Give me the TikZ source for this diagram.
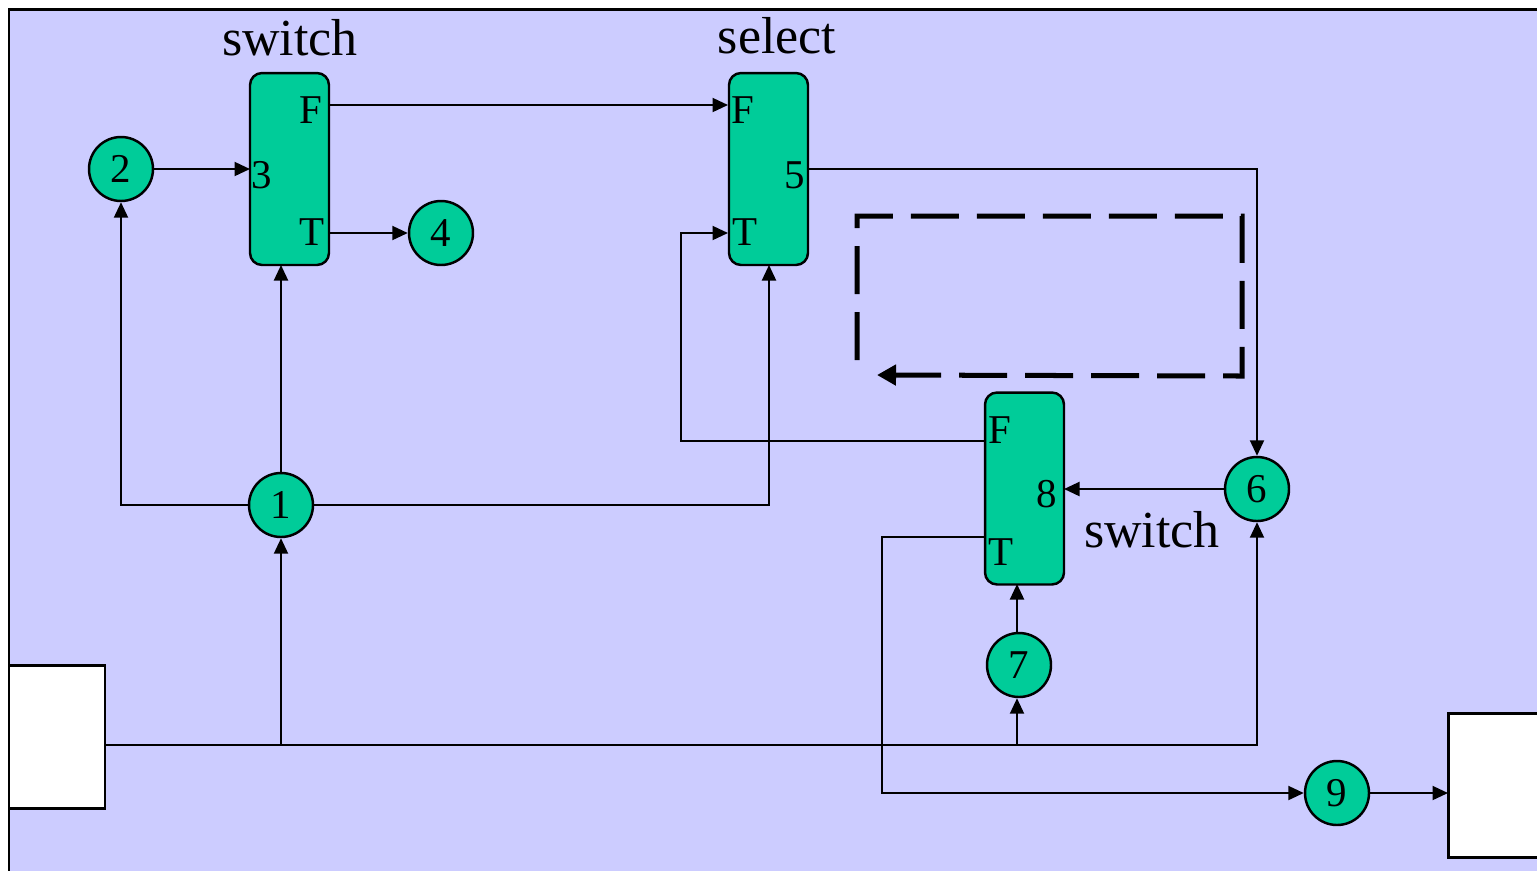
\documentclass[tikz,border=0pt]{standalone}
\usepackage{fontspec}
\setmainfont{Liberation Serif}
\usetikzlibrary{arrows.meta}
\definecolor{bgc}{HTML}{CCCCFF}
\definecolor{grn}{HTML}{00CC99}
\tikzset{
  conn/.style={line width=1.15pt, draw=black},
  arr/.style={conn, -{Triangle[length=0.31cm,width=0.28cm]}},
  opbox/.style={draw=black, line width=1.4pt, fill=grn, rounded corners=0.24cm, minimum width=1.58cm, minimum height=3.84cm, inner sep=0pt},
  vert/.style={circle, draw=black, line width=1.4pt, fill=grn, minimum size=1.28cm, inner sep=0pt, font=\fontsize{23.3}{28}\selectfont},
  lbl/.style={inner sep=0pt, anchor=base, font=\fontsize{23.3}{28}\selectfont},
  ttl/.style={inner sep=0pt, anchor=base, font=\fontsize{29.6}{34}\selectfont},
  iobox/.style={draw=black, line width=1.7pt, fill=white},
}
\begin{document}
\begin{tikzpicture}[x=0.02cm, y=-0.02cm]
\useasboundingbox (0,0) rectangle (1537,870);
\clip (0,0) rectangle (1537,870);
% background
\draw[fill=bgc, line width=1.7pt] (9,9) rectangle (1560,890);
% io boxes
\draw[iobox] (9,665) rectangle (105,808);
\node[inner sep=0pt, minimum width=1.92cm, minimum height=2.86cm] (inbox) at (57,736.5) {};
\draw[iobox] (1448,713) rectangle (1560,857);
\node[inner sep=0pt, minimum width=0.1cm, minimum height=0.5cm, anchor=west] (outbox) at (1448,793) {};
% operator boxes
\node[opbox] (sw1) at (289.5,169) {};
\node[opbox] (sel) at (768.5,169) {};
\node[opbox] (sw2) at (1024.5,488.5) {};
% titles
\node[ttl] (tsw1) at (290,55) {switch};
\node[ttl] (tsel) at (777,53) {select};
\node[ttl] (tsw2) at (1152,547) {switch};
% port labels
\node[lbl] (l1F) at (311,123) {F};
\node[lbl] (l13) at (262,188) {3};
\node[lbl] (l1T) at (312,245) {T};
\node[lbl] (lsF) at (743,123) {F};
\node[lbl] (ls5) at (795,188) {5};
\node[lbl] (lsT) at (745,245) {T};
\node[lbl] (l2F) at (1000,443) {F};
\node[lbl] (l28) at (1047,507) {8};
\node[lbl] (l2T) at (1001,565) {T};
% vertices
\node[vert] (c1) at (281,505) {1};
\node[vert] (c2) at (121,169) {2};
\node[vert] (c4) at (441,233) {4};
\node[vert] (c6) at (1257,489) {6};
\node[vert] (c7) at (1019,665) {7};
\node[vert] (c9) at (1337,793) {9};
% ports and junctions
\coordinate (s1in) at (250,169);
\coordinate (s1F) at (329,105);
\coordinate (s1T) at (329,233);
\coordinate (s1bot) at (281,265);
\coordinate (selF) at (728,105);
\coordinate (selT) at (728,233);
\coordinate (sel5) at (809,169);
\coordinate (selbot) at (769,265);
\coordinate (s2F) at (985,441);
\coordinate (s2T) at (985,537);
\coordinate (s28) at (1064,489);
\coordinate (s2bot) at (1017,584);
\coordinate (inOut) at (105,745);
\coordinate (j1) at (281,745);
\coordinate (j7) at (1017,745);
\coordinate (k1) at (681,441);
\coordinate (k2) at (882,537);
% connectors
\draw[arr] (inOut) -| (c6.south);
\draw[arr] (j1) -- (c1.south);
\draw[arr] (j7) -- (c7.south -| j7);
\draw[arr] (c7.north -| s2bot) -- (s2bot);
\draw[arr] (c1) -- (s1bot);
\draw[arr] (c1) -| (c2.south);
\draw[arr] (c1) -| (selbot);
\draw[arr] (c2) -- (s1in);
\draw[arr] (s1T) -- (c4);
\draw[arr] (s1F) -- (selF);
\draw[arr] (sel5) -| (c6.north);
\draw[arr] (c6) -- (s28);
\draw[arr] (s2F) -- (k1) |- (selT);
\draw[arr] (s2T) -- (k2) |- (c9.west);
\draw[arr] (c9) -- (outbox.west);
% dashed loop
\coordinate (d0) at (857,360);
\coordinate (d1) at (857,216);
\coordinate (d2) at (1242,216);
\coordinate (d3) at (1242,376);
\coordinate (d4) at (877,375);
\draw[line width=2.85pt, dash pattern=on 0.96cm off 0.36cm, -{Triangle[length=0.38cm,width=0.4cm]}] (d0) -- (d1) -- (d2) -- (d3) -- (d4);
\end{tikzpicture}
\end{document}
